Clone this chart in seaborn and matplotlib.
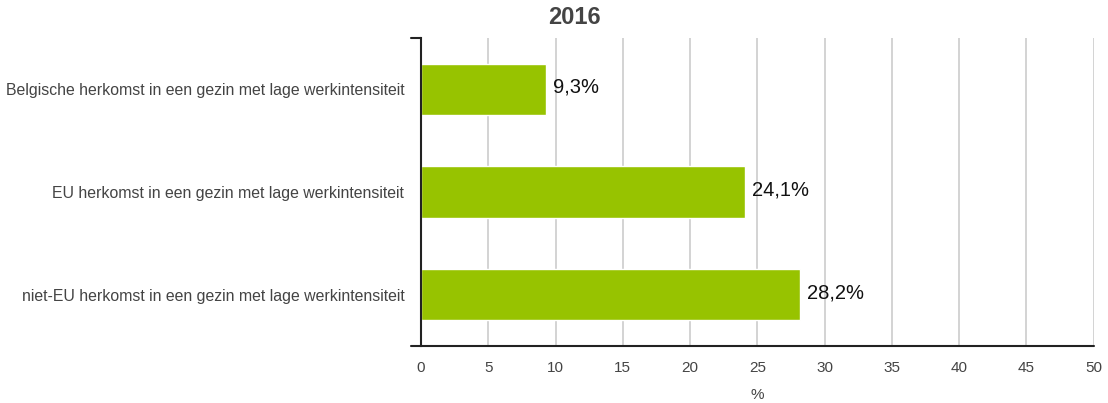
import pandas as pd
import matplotlib
matplotlib.use('Agg')
import matplotlib.pyplot as plt
import seaborn as sns

# data
categories = [
    'Belgische herkomst in een gezin met lage werkintensiteit',
    'EU herkomst in een gezin met lage werkintensiteit',
    'niet-EU herkomst in een gezin met lage werkintensiteit',
]
values = [9.3, 24.1, 28.2]
value_labels = ['9,3%', '24,1%', '28,2%']
x_ticks = [0, 5, 10, 15, 20, 25, 30, 35, 40, 45, 50]
title = '2016'
x_label = '%'

sns.set_theme(style='white')
plt.rcParams['font.family'] = ['Liberation Sans', 'DejaVu Sans']

df = pd.DataFrame({'categorie': categories, 'waarde': values})

fig = plt.figure(figsize=(11.08, 4.03), dpi=100)
ax = fig.add_axes([0.380, 0.141, 0.607, 0.765])

sns.barplot(data=df, x='waarde', y='categorie', orient='h', color='#97c300',
            saturation=1, width=0.5, ax=ax)

ax.set_xlim(0, 50)
ax.set_ylim(2.5, -0.5)
ax.set_xticks(x_ticks)
ax.set_xticklabels([str(t) for t in x_ticks])
ax.xaxis.grid(True, color='#cccccc', linewidth=1.2)
ax.set_axisbelow(True)

for s in ['top', 'right']:
    ax.spines[s].set_visible(False)
ax.spines['left'].set_color('#222222')
ax.spines['left'].set_linewidth(1.5)
ax.spines['bottom'].set_visible(False)

# bottom axis line and little top tick stretch a bit to the left
ax.plot([-0.015, 1.0], [0, 0], transform=ax.transAxes, color='#222222',
        linewidth=1.5, clip_on=False)
ax.plot([-0.015, 0], [1, 1], transform=ax.transAxes, color='#222222',
        linewidth=1.5, clip_on=False)

ax.tick_params(axis='both', length=0, labelsize=11, labelcolor='#444444')
ax.tick_params(axis='y', labelsize=11.4, pad=12)
ax.tick_params(axis='x', pad=11)

for i, (v, lab) in enumerate(zip(values, value_labels)):
    ax.text(v + 0.5, i - 0.02, lab, va='center', ha='left', fontsize=14.5, color='#111111')

ax.set_xlabel(x_label, fontsize=11, color='#444444', labelpad=9)
ax.set_ylabel('')
fig.text(574 / 1108, 1 - 18 / 403, title, ha='center', va='center',
         fontsize=17, fontweight='bold', color='#444444')

fig.savefig('out.png', dpi=100)
